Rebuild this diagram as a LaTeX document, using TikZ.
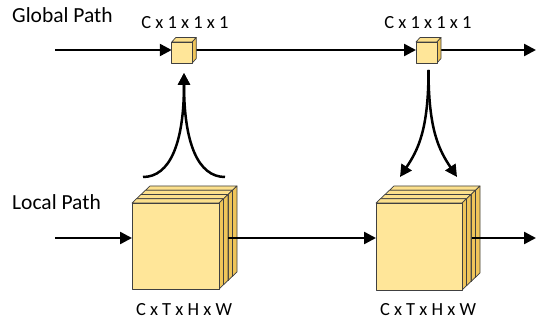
\documentclass[tikz,border=0pt]{standalone}
\usepackage{fontspec}
\setmainfont{Carlito}
\usetikzlibrary{arrows.meta}
\definecolor{cubefront}{HTML}{FFE699}
\definecolor{cubetop}{HTML}{FCE08C}
\definecolor{cubeside}{HTML}{EFC55A}
\definecolor{cubeedge}{HTML}{404040}
\newcommand\cuboid[5]{% #1 node, #2 #3 shift of front face, #4 #5 depth
  \filldraw[topface] ([shift={(#2,#3)}]#1.north west) -- ([shift={(#2+#4,#3+#5)}]#1.north west)
     -- ([shift={(#2+#4,#3+#5)}]#1.north east) -- ([shift={(#2,#3)}]#1.north east) -- cycle;
  \filldraw[sideface] ([shift={(#2,#3)}]#1.north east) -- ([shift={(#2+#4,#3+#5)}]#1.north east)
     -- ([shift={(#2+#4,#3+#5)}]#1.south east) -- ([shift={(#2,#3)}]#1.south east) -- cycle;
  \filldraw[frontface] ([shift={(#2,#3)}]#1.north west) rectangle ([shift={(#2,#3)}]#1.south east);
}
\tikzset{
  facebase/.style={draw=cubeedge, line width=0.7pt, line join=round},
  topface/.style={facebase, fill=cubetop},
  sideface/.style={facebase, fill=cubeside},
  frontface/.style={facebase, fill=cubefront},
  frontbox/.style={inner sep=0pt, outer sep=0pt, minimum width=#1},
  arr/.style={line width=2.5pt, -{Triangle[length=12pt,width=12pt]}},
  ln/.style={line width=2.5pt},
  pathlabel/.style={font=\fontsize{21.5}{24}\selectfont, inner sep=0pt, anchor=base west},
  dimlabel/.style={font=\fontsize{18.5}{20}\selectfont, inner sep=0pt, anchor=base},
}
\begin{document}
\begin{tikzpicture}[x=1pt,y=-1pt]
\useasboundingbox (0,0) rectangle (536,320);
% labels
\node[pathlabel] (gp) at (12,23) {Global Path};
\node[pathlabel] (lp) at (12,210) {Local Path};
\node[dimlabel] (d1) at (185,29) {C x 1 x 1 x 1};
\node[dimlabel] (d2) at (428,29) {C x 1 x 1 x 1};
\node[dimlabel] (d3) at (184,316) {C x T x H x W};
\node[dimlabel] (d4) at (428,316) {C x T x H x W};
% front faces (invisible nodes)
\node[frontbox=20.5pt, minimum height=21pt] (g1) at (182,52.5) {};
\node[frontbox=21pt, minimum height=21pt] (g2) at (426.5,52.5) {};
\node[frontbox=87pt, minimum height=86pt] (l1) at (175.5,246) {};
\node[frontbox=86pt, minimum height=87pt] (l2) at (419,246.5) {};
% free ends
\coordinate (gin) at (55,50);
\coordinate (gout) at (536,50);
\coordinate (lin) at (55,238);
\coordinate (lout) at (536,238);
\coordinate (l1o) at (228,238);
\coordinate (l2o) at (472,238);
\coordinate (c1l) at (143,177);
\coordinate (c1r) at (225,177);
\coordinate (c1t) at (184,73);
\coordinate (c2s) at (428.5,70);
\coordinate (c2l) at (400,177);
\coordinate (c2r) at (457,177);
% global path
\draw[arr] (gin) -- (g1.west |- gin);
\draw[arr] (g1.east |- gin) -- (g2.west |- gin);
\draw[arr] (g2.east |- gin) -- (gout);
\cuboid{g1}{0}{0}{4}{-4.5}
\cuboid{g2}{0}{0}{4}{-4.5}
% local path
\draw[arr] (lin) -- (l1.west |- lin);
\foreach \k in {3,2,1,0}{\cuboid{l1}{\k*4.5}{-\k*4.25}{4.5}{-4.25}}
\foreach \k in {3,2,1,0}{\cuboid{l2}{\k*4.5}{-\k*4.25}{4.5}{-4.25}}
\draw[arr] (l1o) -- (l2.west |- l1o);
\draw[arr] (l2o) -- (lout);
% curves
\draw[arr] (c1l) .. controls +(27,0) and +(0,70) .. (c1t);
\draw[arr] (c1r) .. controls +(-27,0) and +(0,70) .. (c1t);
\draw[arr] (c2s) .. controls +(0,60) and +(18,-27) .. (c2l);
\draw[arr] (c2s) .. controls +(0,60) and +(-18,-27) .. (c2r);
\end{tikzpicture}
\end{document}
